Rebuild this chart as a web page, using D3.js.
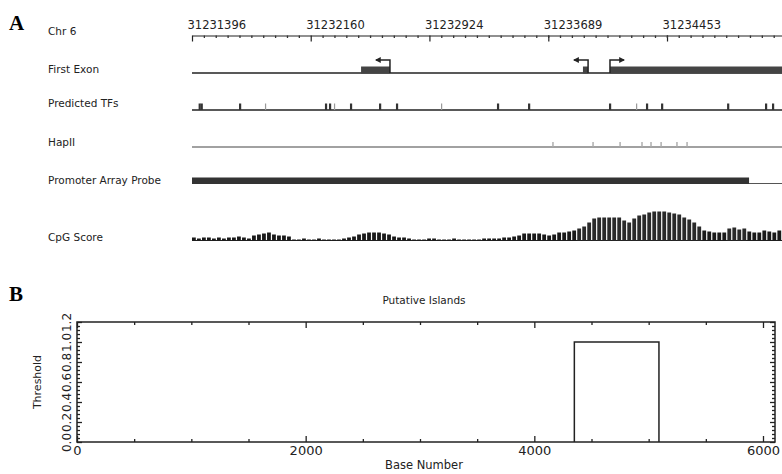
<!DOCTYPE html>
<html>
<head>
<meta charset="utf-8">
<script src="https://cdn.jsdelivr.net/npm/d3@7"></script>
<style>
  html, body { margin: 0; padding: 0; background: #fff; }
  svg { display: block; }
  text { font-family: "DejaVu Sans", sans-serif; }
</style>
</head>
<body>
<svg id="chart" width="782" height="474"></svg>
<script>
// ---------------- DATA ----------------
// Panel A: genomic window on chromosome 6
const chrStart = 31231396;
const chrEnd = 31235193;
const rulerLabels = [31231396, 31232160, 31232924, 31233689, 31234453];
const trackLabels = ["Chr 6", "First Exon", "Predicted TFs", "HapII", "Promoter Array Probe", "CpG Score"];

// First exon: thick exon blocks and transcription start sites
const exonStarts = [31232484, 31233912, 31234086];
const exonEnds   = [31232670, 31233945, 31235193];
const tssPos     = [31232670, 31233945, 31234086];
const tssDir     = [-1, -1, 1];

// Predicted transcription factor binding sites (1 = strong, 0 = weak)
const tfPos = [31231445, 31231458, 31231705, 31231872, 31232258, 31232284, 31232316, 31232419,
               31232606, 31232715, 31233005, 31233365, 31233565, 31234086, 31234260, 31234324,
               31234421, 31234846, 31235090, 31235135];
const tfStrong = [1, 1, 1, 0, 1, 1, 0, 1, 1, 1, 0, 1, 1, 1, 0, 1, 1, 1, 1, 1];

// HapII (CCGG) sites
const hapiiPos = [31233719, 31233977, 31234151, 31234292, 31234350, 31234415, 31234517, 31234582];

// Promoter array probe coverage
const probeStart = 31231396;
const probeEnd = 31234981;

// CpG score per window (windows of 32 bp from chrStart)
const cpgWindow = 32.2;
const cpgScore = [
  3,2,3,3,2,3,2,3,
  3,4,3,2,
  5,6,7,8,
  6,5,5,4,
  1,1,2,1,1,2,1,1,1,1,
  2,3,4,
  6,7,8,8,8,7,6,
  4,3,3,2,
  1,1,1,2,2,1,1,1,2,1,1,1,
  1,1,2,2,2,2,
  3,3,4,5,
  7,7,7,7,
  6,5,6,
  8,8,9,10,12,
  14,18,22,
  23,23,23,23,23,
  20,18,
  22,25,26,
  28,29,29,29,
  28,27,26,
  23,21,
  18,14,
  10,9,
  8,8,8,
  12,13,11,12,
  9,8,8,
  10,9,8,10
];

// Panel B: putative CpG islands
const islandStart = [4350];
const islandEnd = [5090];
const islandThreshold = [1.0];
const bXMajor = [0, 2000, 4000, 6000];
const bXMinor = [500, 1000, 1500, 2500, 3000, 3500, 4500, 5000, 5500];
const bYMajor = [0, 0.2, 0.4, 0.6, 0.8, 1.0, 1.2];
const bYMinor = [0.04,0.08,0.12,0.16,0.24,0.28,0.32,0.36,0.44,0.48,0.52,0.56,0.64,0.68,0.72,0.76,0.84,0.88,0.92,0.96,1.04,1.08,1.12,1.16];

// ---------------- DRAW ----------------
const svg = d3.select("#chart");

// panel letters
svg.append("text").attr("x", 9).attr("y", 30).text("A")
  .style("font-family", "'Liberation Serif', 'DejaVu Serif', serif").style("font-weight", "bold").style("font-size", "21px");
svg.append("text").attr("x", 9).attr("y", 301).text("B")
  .style("font-family", "'Liberation Serif', 'DejaVu Serif', serif").style("font-weight", "bold").style("font-size", "21px");

// ---- Panel A ----
const x = d3.scaleLinear().domain([chrStart, chrEnd]).range([192, 782]);
const trackY = [35, 72.5, 107, 146, 184, 241];
svg.append("g").selectAll("text").data(trackLabels).join("text")
  .attr("x", 48).attr("y", (d, i) => trackY[i]).text(d => d)
  .style("font-size", "10.5px").attr("fill", "#222");

// ruler
const majorStep = (rulerLabels[1] - rulerLabels[0]);
const rulerMinor = d3.range(0, 60).map(i => rulerLabels[0] + i * majorStep / 10).filter(v => v <= chrEnd && !rulerLabels.includes(Math.round(v)));
const rulerY = 35.5;
const rulerMajorG = svg.append("g").attr("transform", `translate(0,${rulerY})`)
  .call(d3.axisBottom(x).tickValues(rulerLabels).tickSize(6).tickSizeOuter(0).tickFormat(d3.format("d")));
rulerMajorG.select(".domain").attr("stroke", "#222").attr("stroke-width", 1.2);
rulerMajorG.selectAll(".tick line").attr("stroke", "#222").attr("stroke-width", 1.2);
rulerMajorG.selectAll(".tick text").attr("y", -7).attr("dy", null).attr("dx", -5)
  .attr("text-anchor", "start").style("font-size", "11.5px").style("font-family", "'DejaVu Sans', sans-serif").attr("fill", "#222");
svg.append("g").attr("transform", `translate(0,${rulerY})`)
  .call(d3.axisBottom(x).tickValues(rulerMinor).tickSize(2.5).tickSizeOuter(0).tickFormat(""))
  .call(g => g.select(".domain").remove())
  .selectAll(".tick line").attr("stroke", "#333").attr("stroke-width", 1.3);

// First exon track
const exY = 73;
svg.append("line").attr("x1", x(chrStart)).attr("x2", x(chrEnd)).attr("y1", exY).attr("y2", exY)
  .attr("stroke", "#222").attr("stroke-width", 1.5);
svg.append("g").selectAll("rect").data(exonStarts).join("rect")
  .attr("x", (d) => x(d)).attr("width", (d, i) => x(exonEnds[i]) - x(d))
  .attr("y", exY - 6.5).attr("height", 7).attr("fill", "#444");
const defs = svg.append("defs");
defs.append("marker").attr("id", "ah").attr("viewBox", "0 0 10 10").attr("refX", 8).attr("refY", 5)
  .attr("markerWidth", 4).attr("markerHeight", 4).attr("orient", "auto-start-reverse")
  .append("path").attr("d", "M0,0 L10,5 L0,10 z").attr("fill", "#222");
svg.append("g").selectAll("path").data(tssPos).join("path")
  .attr("d", (d, i) => `M${x(d)},${exY} V${exY - 13} H${x(d) + tssDir[i] * 14}`)
  .attr("fill", "none").attr("stroke", "#222").attr("stroke-width", 1.5).attr("marker-end", "url(#ah)");

// Predicted TFs
const tfY = 110;
svg.append("line").attr("x1", x(chrStart)).attr("x2", x(chrEnd)).attr("y1", tfY).attr("y2", tfY)
  .attr("stroke", "#222").attr("stroke-width", 1.5);
svg.append("g").selectAll("rect").data(tfPos).join("rect")
  .attr("x", d => x(d) - 1).attr("width", (d, i) => tfStrong[i] ? 2.2 : 1.2)
  .attr("y", tfY - 6.5).attr("height", 6.5)
  .attr("fill", (d, i) => tfStrong[i] ? "#333" : "#999");

// HapII
const hpY = 147;
svg.append("line").attr("x1", x(chrStart)).attr("x2", x(chrEnd)).attr("y1", hpY).attr("y2", hpY)
  .attr("stroke", "#444").attr("stroke-width", 1.1);
svg.append("g").selectAll("rect").data(hapiiPos).join("rect")
  .attr("x", d => x(d) - 0.7).attr("width", 1.4).attr("y", hpY - 5).attr("height", 5).attr("fill", "#aaa");

// Promoter array probe
const prY = 184;
svg.append("line").attr("x1", x(chrStart)).attr("x2", x(chrEnd)).attr("y1", prY - 0.5).attr("y2", prY - 0.5)
  .attr("stroke", "#555").attr("stroke-width", 1.2);
svg.append("rect").attr("x", x(probeStart)).attr("width", x(probeEnd) - x(probeStart))
  .attr("y", prY - 6.5).attr("height", 6.5).attr("fill", "#333");

// CpG Score
const cpY = 240.5;
const yC = d3.scaleLinear().domain([0, 30]).range([0, 30]);
svg.append("line").attr("x1", x(chrStart)).attr("x2", x(chrEnd)).attr("y1", cpY).attr("y2", cpY)
  .attr("stroke", "#222").attr("stroke-width", 1.2);
svg.append("g").selectAll("rect").data(cpgScore).join("rect")
  .attr("x", (d, i) => x(chrStart + i * cpgWindow))
  .attr("width", (d, i) => (x(chrStart + (i + 1) * cpgWindow) - x(chrStart + i * cpgWindow)) - 1.2)
  .attr("y", d => cpY - yC(d)).attr("height", d => yC(d))
  .attr("fill", (d, i) => d > 10 ? "#2a2a2a" : "#1a1a1a");

// ---- Panel B ----
const bL = 77, bR = 775, bT = 322, bB = 442;
const xb = d3.scaleLinear().domain([0, 6105]).range([bL, bR]);
const yb = d3.scaleLinear().domain([0, 1.2]).range([bB, bT]);

svg.append("text").attr("x", 424).attr("y", 304).attr("text-anchor", "middle").text("Putative Islands")
  .style("font-size", "10.5px").attr("fill", "#222");
svg.append("text").attr("x", 424).attr("y", 469).attr("text-anchor", "middle").text("Base Number")
  .style("font-size", "11.5px").attr("fill", "#222");
svg.append("text").attr("transform", `translate(41,382) rotate(-90)`).attr("text-anchor", "middle").text("Threshold")
  .style("font-size", "11px").attr("fill", "#222");

function styleAxis(g) {
  g.select(".domain").remove();
  g.selectAll(".tick line").attr("stroke", "#222").attr("stroke-width", 1.3);
}
// bottom
svg.append("g").attr("transform", `translate(0,${bB})`)
  .call(d3.axisBottom(xb).tickValues(bXMajor).tickSize(-6).tickPadding(4).tickFormat(d3.format("d")))
  .call(styleAxis)
  .selectAll("text").style("font-size", "13px").style("font-family", "'DejaVu Sans', sans-serif").attr("fill", "#222");
svg.append("g").attr("transform", `translate(0,${bB})`)
  .call(d3.axisBottom(xb).tickValues(bXMinor).tickSize(-3).tickFormat("")).call(styleAxis);
// top
svg.append("g").attr("transform", `translate(0,${bT})`)
  .call(d3.axisTop(xb).tickValues(bXMajor).tickSize(-6).tickFormat("")).call(styleAxis);
svg.append("g").attr("transform", `translate(0,${bT})`)
  .call(d3.axisTop(xb).tickValues(bXMinor).tickSize(-3).tickFormat("")).call(styleAxis);
// left
const yl = svg.append("g").attr("transform", `translate(${bL},0)`)
  .call(d3.axisLeft(yb).tickValues(bYMajor).tickSize(-5).tickFormat(d3.format(".1f")))
  .call(styleAxis);
yl.selectAll("text").attr("x", null).attr("dy", null).attr("text-anchor", "middle")
  .attr("transform", "translate(-6,0) rotate(-90)")
  .style("font-size", "12px").style("font-family", "'DejaVu Sans', sans-serif").attr("fill", "#222");
svg.append("g").attr("transform", `translate(${bL},0)`)
  .call(d3.axisLeft(yb).tickValues(bYMinor).tickSize(-3).tickFormat("")).call(styleAxis);
// right
svg.append("g").attr("transform", `translate(${bR},0)`)
  .call(d3.axisRight(yb).tickValues(bYMajor).tickSize(-5).tickFormat("")).call(styleAxis);
svg.append("g").attr("transform", `translate(${bR},0)`)
  .call(d3.axisRight(yb).tickValues(bYMinor).tickSize(-3).tickFormat("")).call(styleAxis);

// frame
svg.append("rect").attr("x", bL).attr("y", bT).attr("width", bR - bL).attr("height", bB - bT)
  .attr("fill", "none").attr("stroke", "#222").attr("stroke-width", 1.5);

// islands as step outline
const islandLine = d3.line().x(d => xb(d[0])).y(d => yb(d[1]));
svg.append("g").selectAll("path").data(islandStart).join("path")
  .attr("d", (d, i) => islandLine([[d, 0], [d, islandThreshold[i]], [islandEnd[i], islandThreshold[i]], [islandEnd[i], 0]]))
  .attr("fill", "none").attr("stroke", "#222").attr("stroke-width", 1.5);
</script>
</body>
</html>
